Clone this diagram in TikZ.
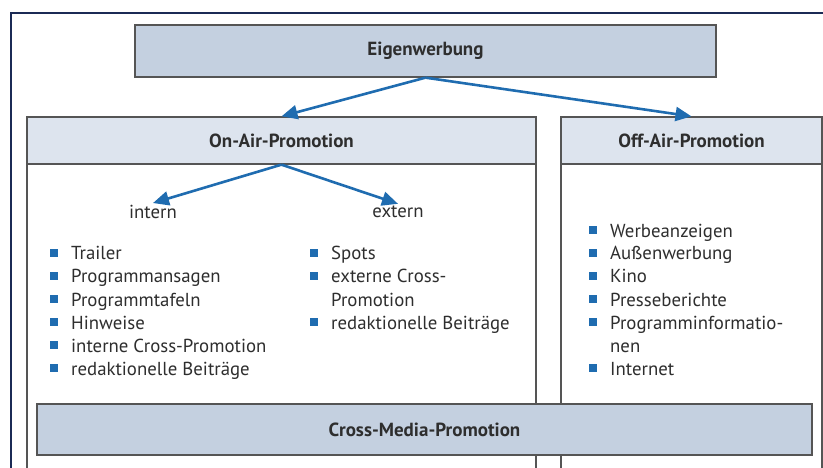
\documentclass[tikz,border=0pt]{standalone}
\usepackage{fontspec}
\setmainfont{PT Sans}
\usetikzlibrary{arrows.meta}
\definecolor{frameblue}{HTML}{1B2A55}
\definecolor{boxline}{HTML}{555555}
\definecolor{darkfill}{HTML}{C4D0E0}
\definecolor{lightfill}{HTML}{DDE4EE}
\definecolor{arrowblue}{HTML}{1F6CB0}
\definecolor{txt}{HTML}{2E2E2E}
\begin{document}
\begin{tikzpicture}[x=1pt,y=-1pt,
  hdr/.style={draw=boxline,line width=1.3pt,minimum height=47pt,inner sep=0pt,font=\bfseries\fontsize{19}{21}\selectfont,text=txt},
  darkbox/.style={hdr,fill=darkfill,minimum height=52pt},
  lightbox/.style={hdr,fill=lightfill},
  body/.style={draw=boxline,line width=1.3pt,fill=white},
  conn/.style={draw=arrowblue,line width=2.6pt,-{Triangle[length=16pt,width=14pt]}},
  item/.style={anchor=base west,inner sep=0pt,text=txt,font=\fontsize{18.8}{21}\selectfont},
  sub/.style={inner sep=2pt,text=txt,font=\fontsize{18.8}{21}\selectfont},
  blt/.style={fill=arrowblue,minimum size=8pt,inner sep=0pt,anchor=south west}
]
\useasboundingbox (0,0) rectangle (823,468);
% outer frame
\draw[frameblue,line width=1.3pt] (11,480) -- (11,13) -- (830,13);
% bodies
\path[body] (27,164) rectangle (536,490);
\path[body] (561,164) rectangle (822,490);
% headers
\node[darkbox,minimum width=581pt] (eig) at (425.5,51) {Eigenwerbung};
\node[lightbox,minimum width=509pt] (on) at (281.5,140.5) {On-Air-Promotion};
\node[lightbox,minimum width=261pt] (off) at (691.5,140.5) {Off-Air-Promotion};
% arrows
\draw[conn] (eig.south) -- (on.north);
\draw[conn] (eig.south) -- (off.north);
\node[sub] (intern) at (153,212) {intern};
\node[sub] (extern) at (398,212) {extern};
\draw[conn] (on.south) -- (intern.north);
\draw[conn] (on.south) -- (extern.north);
% intern list
\foreach \t [count=\i] in {Trailer,Programmansagen,Programmtafeln,Hinweise,interne Cross-Promotion,redaktionelle Beiträge}{
  \node[blt] (ib\i) at (50,{260+23*(\i-1)-2.5}) {};
  \node[item] (it\i) at (71,{260+23*(\i-1)}) {\t};
}
% extern list
\foreach \t/\b [count=\i] in {Spots/1,externe Cross-/1,Promotion/0,redaktionelle Beiträge/1}{
  \ifnum\b=1 \node[blt] (eb\i) at (310,{260+23*(\i-1)-2.5}) {};\fi
  \node[item] (et\i) at (331,{260+23*(\i-1)}) {\t};
}
% off-air list
\foreach \t/\b [count=\i] in {Werbeanzeigen/1,Außenwerbung/1,Kino/1,Presseberichte/1,Programminformatio-/1,nen/0,Internet/1}{
  \ifnum\b=1 \node[blt] (ob\i) at (589,{237+23*(\i-1)-2.5}) {};\fi
  \node[item] (ot\i) at (610,{237+23*(\i-1)}) {\t};
}
% cross media
\node[darkbox,minimum width=775pt,minimum height=51pt] (cross) at (424.5,429.5) {Cross-Media-Promotion};
\end{tikzpicture}
\end{document}
